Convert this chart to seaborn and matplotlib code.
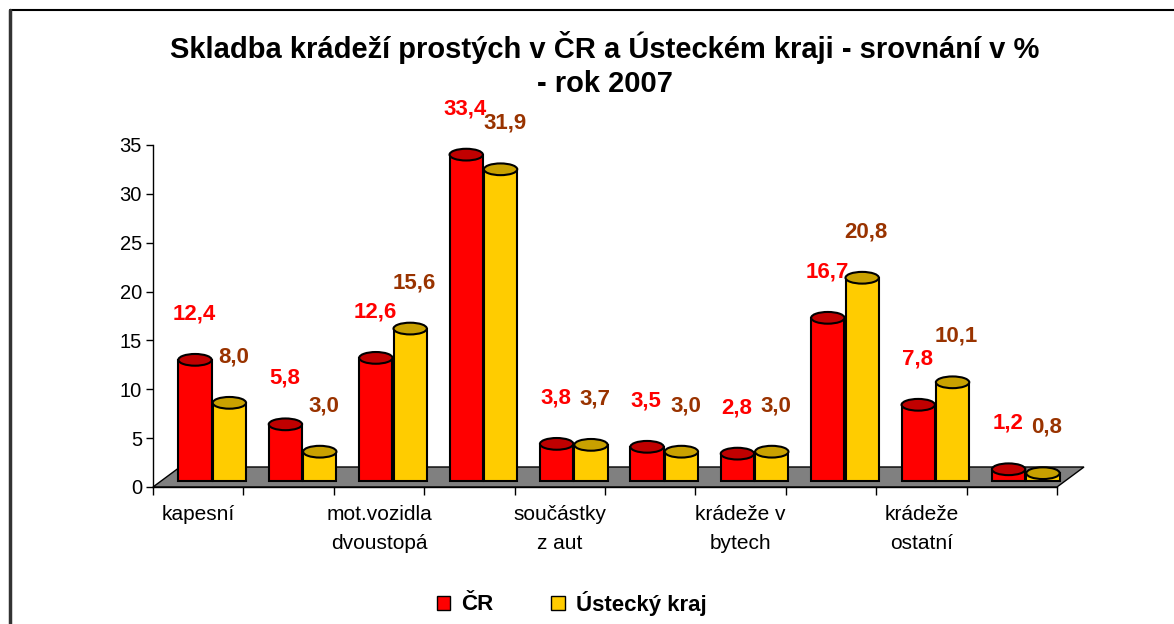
"""
Skladba krádeží prostých v ČR a Ústeckém kraji (2007) - sloupcový graf.
"""
import matplotlib
matplotlib.use("Agg")
import matplotlib.pyplot as plt
import matplotlib.transforms as mtransforms
from matplotlib.lines import Line2D
from matplotlib.patches import Ellipse, Patch, Polygon
import pandas as pd
import seaborn as sns

# ── data ──────────────────────────────────────────────────────────────────────
tick_labels = ["kapesní", "", "mot.vozidla\ndvoustopá", "", "součástky\nz aut",
               "", "krádeže v\nbytech", "", "krádeže\nostatní", ""]
categories = [f"k{i}" for i in range(len(tick_labels))]
series = ["ČR", "Ústecký kraj"]
cr = [12.4, 5.8, 12.6, 33.4, 3.8, 3.5, 2.8, 16.7, 7.8, 1.2]
ustecky = [8.0, 3.0, 15.6, 31.9, 3.7, 3.0, 3.0, 20.8, 10.1, 0.8]

RED, YELLOW = "#FF0000", "#FFCC00"
TOPS = ["#C00000", "#C9A100"]
LABEL_COLORS = ["#FF0000", "#993300"]

df = pd.DataFrame({
    "kategorie": categories * 2,
    "podil": cr + ustecky,
    "oblast": [series[0]] * len(cr) + [series[1]] * len(ustecky),
})

sns.set_style("white")
plt.rcParams["font.family"] = ["Liberation Sans", "DejaVu Sans"]
plt.rcParams.update({"text.color": "black", "axes.labelcolor": "black",
                     "xtick.color": "black", "ytick.color": "black"})

fig = plt.figure(figsize=(11.74, 6.24), dpi=100)
ax = fig.add_axes([153 / 1174, 1 - 487 / 624, 904 / 1174, 342 / 624])

sns.barplot(data=df, x="kategorie", y="podil", hue="oblast", order=categories,
            hue_order=series, palette=[RED, YELLOW], saturation=1, width=0.76,
            gap=0.03, edgecolor="black", linewidth=1.5, legend=False, ax=ax,
            zorder=2)

ax.set_xlim(-0.5, len(categories) - 0.5)
ax.set_ylim(0, 35)
ax.set_yticks(range(0, 36, 5))

# 3D-ish floor under the bars
depth_x, depth_y = 27 / 904, 20 / 342
floor = Polygon([(0, 0), (1, 0), (1 + depth_x, depth_y), (depth_x, depth_y)],
                closed=True, transform=ax.transAxes, facecolor="#808080",
                edgecolor="black", lw=1, clip_on=False, zorder=0.5)
ax.add_patch(floor)

shift = mtransforms.ScaledTranslation(0.14, 0.06, fig.dpi_scale_trans)
for k, cont in enumerate(ax.containers):
    for bar in cont.patches:
        bar.set_transform(ax.transData + shift)
        bar.set_clip_on(False)
        cx = bar.get_x() + bar.get_width() / 2
        h = bar.get_height()
        top = Ellipse((cx, h), width=bar.get_width(), height=1.2,
                      transform=ax.transData + shift, facecolor=TOPS[k],
                      edgecolor="black", lw=1.5, zorder=3, clip_on=False)
        ax.add_patch(top)
        dx = 13 if k == 0 else 18
        ax.annotate(f"{h:.1f}".replace(".", ","), xy=(cx, h),
                    xytext=(dx, 52), textcoords="offset pixels",
                    ha="center", va="center", fontsize=16, fontweight="bold",
                    color=LABEL_COLORS[k], annotation_clip=False)

# axes styling
sns.despine(ax=ax, top=True, right=True)
for side in ("left", "bottom"):
    ax.spines[side].set_linewidth(1)
    ax.spines[side].set_color("black")
ax.set_xlabel("")
ax.set_ylabel("")
ax.set_xticks(range(len(categories)))
ax.set_xticklabels(tick_labels, fontsize=15, linespacing=1.65)
ax.set_xticks([i - 0.5 for i in range(len(categories) + 1)], minor=True)
ax.tick_params(axis="x", which="major", length=0, pad=13)
ax.tick_params(axis="x", which="minor", length=6, width=1, direction="out",
               color="black", bottom=True)
ax.tick_params(axis="y", length=5, width=1, direction="out", color="black",
               left=True, labelsize=14.5, pad=3)

fig.text(0.515, 1 - 48 / 624, "Skladba krádeží prostých v ČR a Ústeckém kraji - srovnání v %",
         ha="center", va="center", fontsize=21, fontweight="bold")
fig.text(0.515, 1 - 84 / 624, "- rok 2007",
         ha="center", va="center", fontsize=21, fontweight="bold")

handles = [Patch(facecolor=RED, edgecolor="black", lw=1),
           Patch(facecolor=YELLOW, edgecolor="black", lw=1)]
fig.legend(handles=handles, labels=series, loc="center",
           bbox_to_anchor=(0.487, 1 - 603 / 624), ncol=2, frameon=False,
           handlelength=0.6, handleheight=0.6, handletextpad=0.5,
           columnspacing=2.6, prop={"weight": "bold", "size": 16})

# chart frame (top and left edge)
fig.add_artist(Line2D([10 / 1174, 1], [1 - 10 / 624] * 2, color="black", lw=1.5,
                      transform=fig.transFigure))
fig.add_artist(Line2D([10 / 1174] * 2, [0, 1 - 10 / 624], color="#333333", lw=2.5,
                      transform=fig.transFigure))

fig.savefig("out.png", dpi=100)
